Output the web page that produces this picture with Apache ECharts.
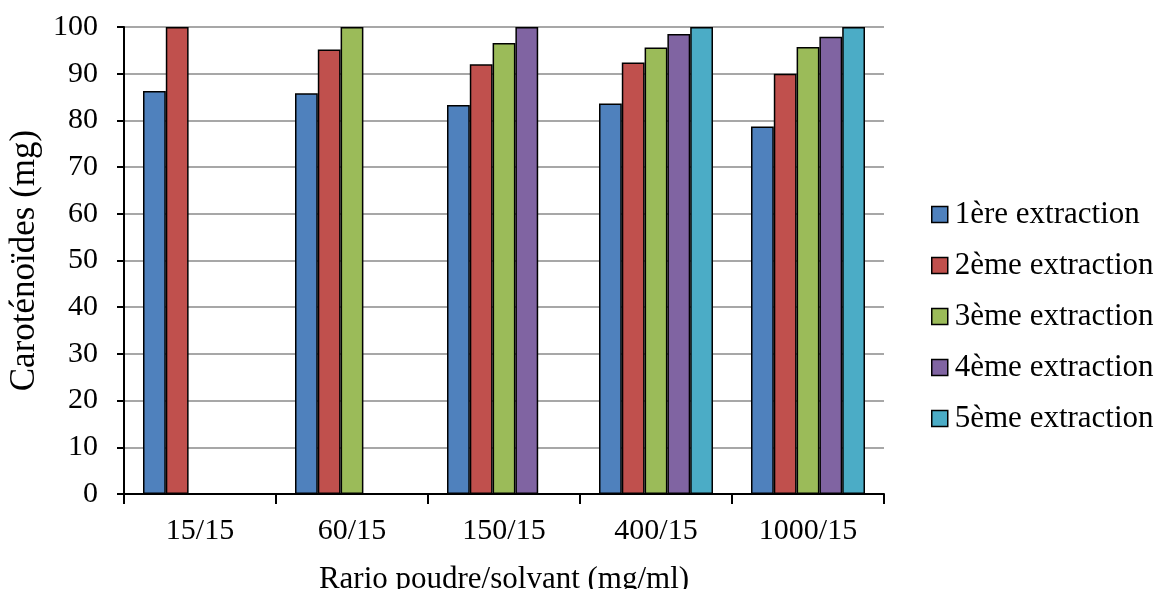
<!DOCTYPE html>
<html>
<head>
<meta charset="utf-8">
<script src="https://cdn.jsdelivr.net/npm/echarts@6/dist/echarts.min.js"></script>
<style>
html,body{margin:0;padding:0;background:#fff;}
#chart{width:1157px;height:589px;}
</style>
</head>
<body>
<div id="chart"></div>
<script>
const categories = ['15/15', '60/15', '150/15', '400/15', '1000/15'];
const seriesNames = ['1ère extraction', '2ème extraction', '3ème extraction', '4ème extraction', '5ème extraction'];
const extraction1 = [86.3, 85.8, 83.3, 83.6, 78.7];
const extraction2 = [100, 95.2, 92.0, 92.4, 90.0];
const extraction3 = [null, 100, 96.6, 95.6, 95.7];
const extraction4 = [null, null, 100, 98.5, 97.9];
const extraction5 = [null, null, null, 100, 100];
const colors = ['#4F81BD', '#C0504D', '#9BBB59', '#8064A2', '#4BACC6'];
const yAxisName = 'Caroténoïdes (mg)';
const xAxisName = 'Rario poudre/solvant (mg/ml)';

const allData = [extraction1, extraction2, extraction3, extraction4, extraction5];
const font = '"Liberation Serif", "Times New Roman", serif';

const chart = echarts.init(document.getElementById('chart'), null, {renderer: 'canvas'});
chart.setOption({
  animation: false,
  backgroundColor: '#ffffff',
  color: colors,
  grid: {left: 124, right: 273, top: 27, bottom: 95, containLabel: false, outerBoundsMode: 'none'},
  legend: {
    orient: 'vertical',
    left: 926,
    top: 194,
    itemWidth: 16,
    itemHeight: 16,
    itemGap: 20,
    icon: 'rect',
    itemStyle: {borderColor: '#000', borderWidth: 1.5},
    textStyle: {fontFamily: font, fontSize: 31, color: '#000', lineHeight: 31, padding: [0, 0, 0, 2]},
    data: seriesNames
  },
  xAxis: {
    type: 'category',
    data: categories,
    name: xAxisName,
    nameLocation: 'middle',
    nameGap: 70,
    nameTextStyle: {fontFamily: font, fontSize: 31, color: '#000'},
    axisLine: {lineStyle: {color: '#000', width: 2}},
    axisTick: {show: true, length: 10, lineStyle: {color: '#000', width: 2}},
    axisLabel: {fontFamily: font, fontSize: 30, color: '#000', margin: 22},
    splitLine: {show: false}
  },
  yAxis: {
    type: 'value',
    min: 0,
    max: 100,
    interval: 10,
    name: yAxisName,
    nameLocation: 'middle',
    nameGap: 76,
    nameTextStyle: {fontFamily: font, fontSize: 35, color: '#000'},
    axisLine: {show: true, lineStyle: {color: '#000', width: 2}},
    axisTick: {show: true, length: 7, lineStyle: {color: '#000', width: 2}},
    axisLabel: {fontFamily: font, fontSize: 30, color: '#000', margin: 26},
    splitLine: {show: true, lineStyle: {color: '#8a8a8a', width: 1.6}}
  },
  series: allData.map((d, i) => ({
    name: seriesNames[i],
    type: 'bar',
    data: d,
    barGap: '0%',
    barCategoryGap: '25%',
    itemStyle: {color: colors[i], borderColor: '#000', borderWidth: 1.5}
  }))
});
</script>
</body>
</html>
